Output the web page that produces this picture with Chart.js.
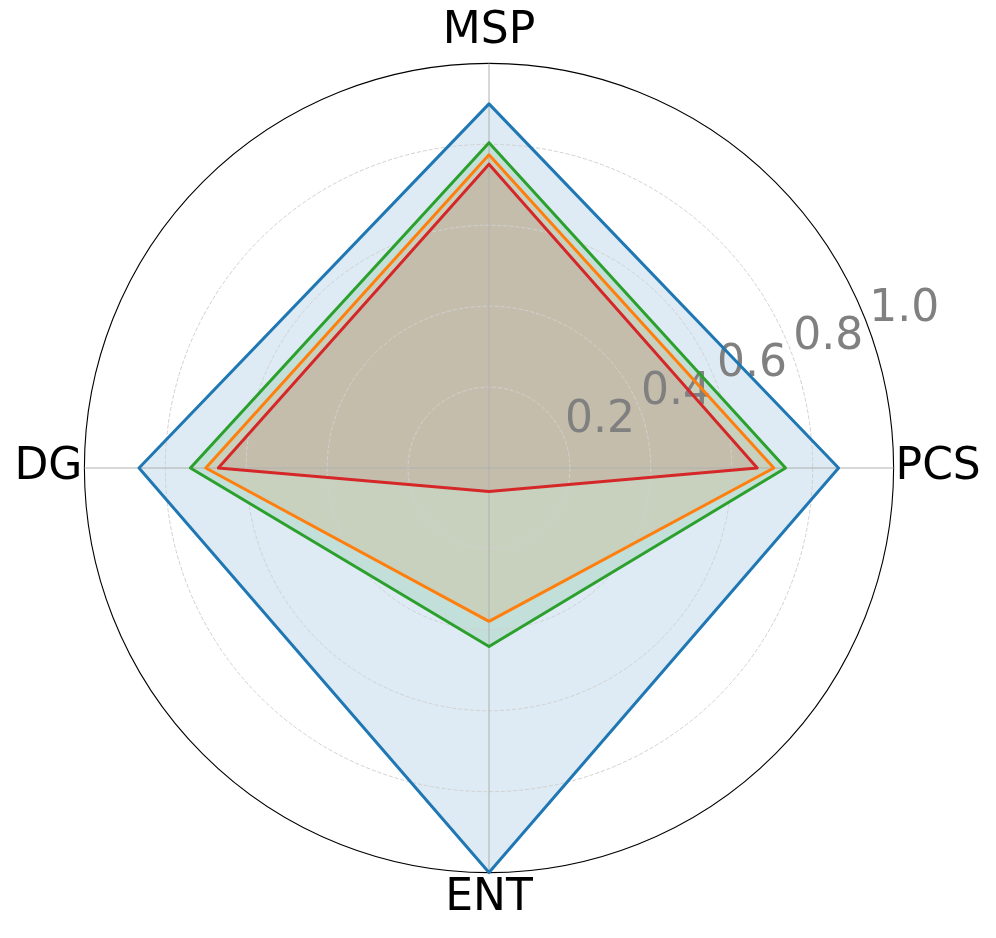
<!DOCTYPE html>
<html>
<head>
<meta charset="utf-8">
<script src="https://cdn.jsdelivr.net/npm/chart.js@4.4.1/dist/chart.umd.min.js"></script>
<style>
  html, body { margin: 0; padding: 0; background: #ffffff; }
  #wrap { width: 996px; height: 938px; position: relative; }
</style>
</head>
<body>
<div id="wrap"><canvas id="c"></canvas></div>
<script>
// ---- data ----
const categories = ['MSP', 'PCS', 'ENT', 'DG'];
const seriesNames = ['Series 1', 'Series 2', 'Series 3', 'Series 4'];
const blueValues   = [0.900, 0.864, 1.000, 0.865];
const orangeValues = [0.774, 0.704, 0.379, 0.700];
const greenValues  = [0.804, 0.733, 0.441, 0.738];
const redValues    = [0.751, 0.663, 0.058, 0.669];
const rTickValues = [0.2, 0.4, 0.6, 0.8, 1.0];
const rTickLabels = ['0.2', '0.4', '0.6', '0.8', '1.0'];

const colors = {
  blue: '#1f77b4', orange: '#ff7f0e', green: '#2ca02c', red: '#d62728'
};
function rgba(hex, a) {
  const n = parseInt(hex.slice(1), 16);
  return `rgba(${(n >> 16) & 255},${(n >> 8) & 255},${n & 255},${a})`;
}
function ds(label, data, col) {
  return {
    label: label,
    data: data,
    borderColor: col,
    backgroundColor: rgba(col, 0.15),
    borderWidth: 3,
    borderJoinStyle: 'round',
    pointRadius: 0,
    pointHoverRadius: 0,
    fill: true,
    tension: 0
  };
}

const FONT = '"DejaVu Sans", "Liberation Sans", sans-serif';

// radial tick labels drawn along a 20° ray, positioned through the scale
const rTickPlugin = {
  id: 'rTicks',
  beforeDatasetsDraw(chart) {
    const s = chart.scales.r;
    const ctx = chart.ctx;
    const a = 20 * Math.PI / 180;
    ctx.save();
    ctx.font = '44px ' + FONT;
    ctx.fillStyle = '#808080';
    ctx.textAlign = 'left';
    ctx.textBaseline = 'alphabetic';
    rTickValues.forEach((v, i) => {
      const d = s.getDistanceFromCenterForValue(v);
      ctx.fillText(rTickLabels[i], s.xCenter + d * Math.cos(a), s.yCenter - d * Math.sin(a) - 8.6);
    });
    ctx.restore();
  }
};

const labelPadding = [5.6, 2, 0, 2];

new Chart(document.getElementById('c'), {
  type: 'radar',
  data: {
    labels: categories,
    datasets: [
      ds(seriesNames[0], blueValues, colors.blue),
      ds(seriesNames[1], orangeValues, colors.orange),
      ds(seriesNames[2], greenValues, colors.green),
      ds(seriesNames[3], redValues, colors.red)
    ]
  },
  options: {
    responsive: true,
    maintainAspectRatio: false,
    animation: false,
    layout: { padding: { top: 3, bottom: 9, left: 0, right: 0 } },
    plugins: {
      legend: { display: false },
      tooltip: { enabled: false },
      filler: { drawTime: 'beforeDraw' }
    },
    scales: {
      r: {
        min: 0,
        max: 1,
        beginAtZero: true,
        ticks: { display: false, stepSize: 0.2 },
        grid: {
          circular: true,
          color: (c) => (c.tick && c.tick.value >= 0.999) ? '#000000' : '#d0d0d0',
          lineWidth: (c) => (c.tick && c.tick.value >= 0.999) ? 1.1 : 1
        },
        border: {
          dash: (c) => (c.tick && c.tick.value >= 0.999) ? [] : [4, 2]
        },
        angleLines: { display: true, color: '#b0b0b0', lineWidth: 1 },
        pointLabels: {
          display: true,
          color: '#000000',
          font: { family: FONT, size: 44 },
          padding: (c) => labelPadding[c.index]
        }
      }
    }
  },
  plugins: [rTickPlugin]
});
</script>
</body>
</html>
